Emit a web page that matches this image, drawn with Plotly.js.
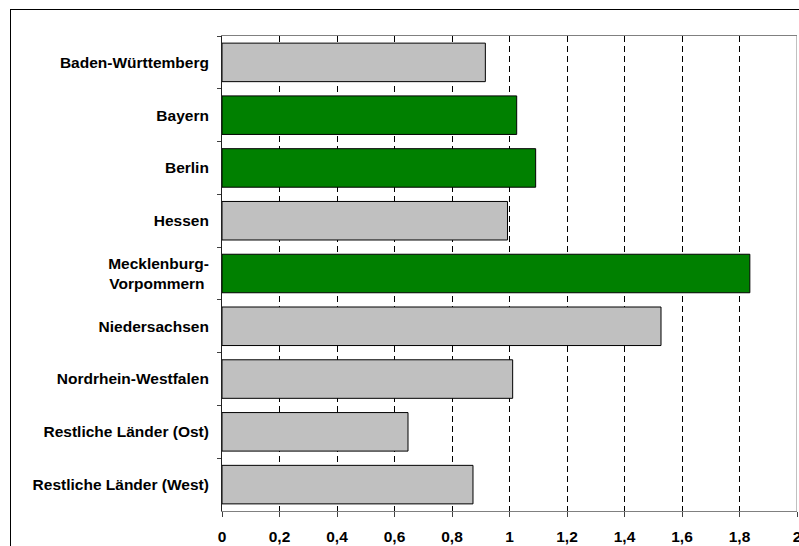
<!DOCTYPE html>
<html>
<head>
<meta charset="utf-8">
<script src="https://cdn.plot.ly/plotly-3.0.1.min.js"></script>
<style>
  html, body { margin: 0; padding: 0; width: 799px; height: 546px; overflow: hidden; background: #fff; }
  #chart { position: absolute; left: 0; top: 0; width: 799px; height: 546px; }
  #frame { position: absolute; left: 10px; top: 9px; width: 820px; height: 560px; border: 1px solid #000; pointer-events: none; }
</style>
</head>
<body>
<div id="chart"></div>
<div id="frame"></div>
<script>
// Länder und Kennzahl je Land
const laender = [
  "Baden-Württemberg",
  "Bayern",
  "Berlin",
  "Hessen",
  "Mecklenburg-<br>Vorpommern\u00a0",
  "Niedersachsen",
  "Nordrhein-Westfalen",
  "Restliche Länder (Ost)",
  "Restliche Länder (West)"
];
const werte = [0.916, 1.025, 1.091, 0.993, 1.836, 1.527, 1.011, 0.647, 0.873];
// hervorgehobene Länder grün, übrige grau
const hervorgehoben = [false, true, true, false, true, false, false, false, false];
const xTicks = [0, 0.2, 0.4, 0.6, 0.8, 1, 1.2, 1.4, 1.6, 1.8, 2];

const GRAU = "#c0c0c0";
const GRUEN = "#008000";
const schrift = { family: "Liberation Sans, Arial, sans-serif", size: 15.5, color: "#000", weight: "bold" };

const trace = {
  type: "bar",
  orientation: "h",
  y: laender,
  x: werte,
  marker: {
    color: hervorgehoben.map(h => h ? GRUEN : GRAU),
    line: { color: "#000", width: 1 }
  },
  hoverinfo: "none"
};

const layout = {
  width: 799,
  height: 546,
  margin: { l: 222, r: 2, t: 36, b: 35, pad: 0 },
  paper_bgcolor: "rgba(0,0,0,0)",
  plot_bgcolor: "#fff",
  separators: ",.",
  showlegend: false,
  bargap: 0.27,
  font: schrift,
  xaxis: {
    range: [0, 2],
    tickvals: xTicks,
    showgrid: true,
    gridcolor: "#000",
    gridwidth: 1,
    griddash: "6px,4px",
    zeroline: false,
    showline: true,
    linecolor: "#808080",
    linewidth: 1,
    mirror: true,
    ticks: "outside",
    ticklen: 5,
    tickcolor: "#404040",
    tickfont: schrift,
    ticklabelstandoff: 6,
    ticklabeloverflow: "allow",
    fixedrange: true
  },
  yaxis: {
    type: "category",
    autorange: "reversed",
    showgrid: false,
    zeroline: false,
    showline: true,
    linecolor: "#202020",
    linewidth: 1,
    ticks: "outside",
    tickson: "boundaries",
    ticklen: 4,
    tickcolor: "#404040",
    tickfont: schrift,
    ticklabelstandoff: 9,
    fixedrange: true
  },
  shapes: [
    { type: "line", xref: "x", yref: "paper", x0: 2, x1: 2, y0: 0, y1: 1,
      line: { color: "#808080", width: 1 }, layer: "above" }
  ]
};

Plotly.newPlot("chart", [trace], layout, { displayModeBar: false, staticPlot: true });
</script>
</body>
</html>
